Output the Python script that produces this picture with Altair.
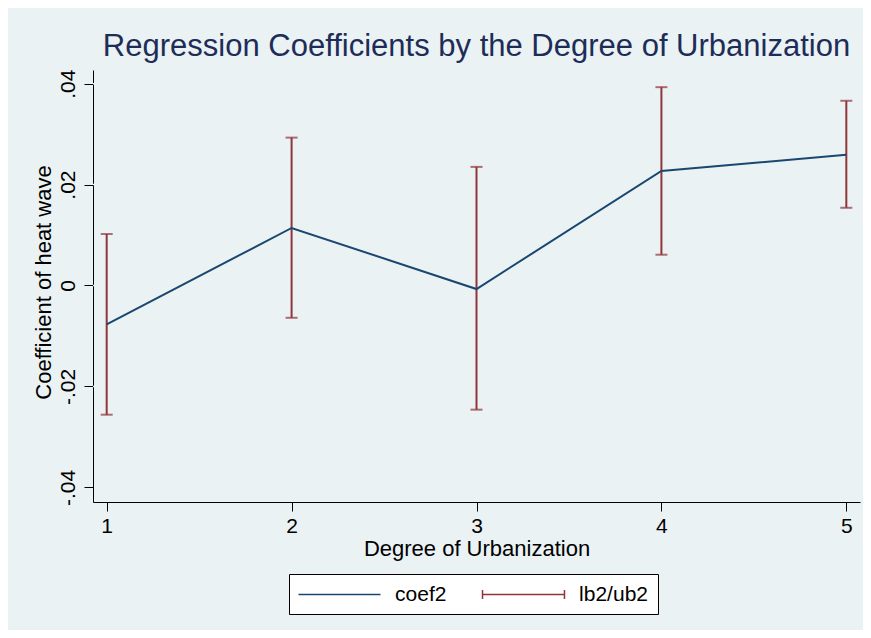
import altair as alt
import pandas as pd

# ---- data ----
urbanization = [1, 2, 3, 4, 5]
coef2 = [-0.0077, 0.0114, -0.0007, 0.0227, 0.0259]
lb2 = [-0.0256, -0.0064, -0.0246, 0.0061, 0.0154]
ub2 = [0.0102, 0.0293, 0.0235, 0.0393, 0.0366]

y_tick_values = [-0.04, -0.02, 0, 0.02, 0.04]
y_tick_labels = ["-.04", "-.02", "0", ".02", ".04"]
y_grid_values = [-0.02, 0, 0.02, 0.04]
x_tick_values = [1, 2, 3, 4, 5]
legend_labels = ["coef2", "lb2/ub2"]

NAVY = "#1a476f"
MAROON = "#90353b"
BG = "#eaf2f3"
FONT = "Liberation Sans"

df = pd.DataFrame({"x": urbanization, "coef": coef2, "lb": lb2, "ub": ub2})
grid_df = pd.DataFrame({"g": y_grid_values})
legend_df = pd.DataFrame({"series": legend_labels})

label_expr = " : ".join(
    [f"datum.value == {v} ? '{l}'" for v, l in zip(y_tick_values, y_tick_labels)]
) + " : ''"

xscale = alt.Scale(domain=[0.926, 5.074], nice=False, zero=False)
yscale = alt.Scale(domain=[-0.0429, 0.0427], nice=False, zero=False)

x_axis = alt.Axis(
    values=x_tick_values, format="d", title="Degree of Urbanization",
    grid=False, tickSize=9, labelPadding=21.5, labelBaseline="alphabetic",
    titleBaseline="alphabetic", titleY=53.7,
)
y_axis = alt.Axis(
    values=y_tick_values, labelExpr=label_expr, title="Coefficient of heat wave",
    grid=False, tickSize=9, labelAngle=270, labelAlign="center",
    labelBaseline="alphabetic", labelPadding=10,
    titleBaseline="alphabetic", titleX=-42.5, titleY=212, titleAngle=270,
)

base = alt.Chart(df)

grid = alt.Chart(grid_df).mark_rule(color=BG, strokeWidth=1.5).encode(
    y=alt.Y("g:Q", scale=yscale, axis=y_axis)
)

line = base.mark_line(color=NAVY, strokeWidth=2).encode(
    x=alt.X("x:Q", scale=xscale, axis=x_axis),
    y=alt.Y("coef:Q", scale=yscale, axis=y_axis),
)

bars = base.mark_rule(color=MAROON, strokeWidth=2).encode(
    x=alt.X("x:Q", scale=xscale, axis=x_axis),
    y=alt.Y("lb:Q", scale=yscale, axis=y_axis),
    y2="ub:Q",
)
cap_lo = base.mark_tick(color=MAROON, orient="horizontal", size=12, thickness=2).encode(
    x=alt.X("x:Q", scale=xscale, axis=x_axis), y=alt.Y("lb:Q", scale=yscale, axis=y_axis)
)
cap_hi = base.mark_tick(color=MAROON, orient="horizontal", size=12, thickness=2).encode(
    x=alt.X("x:Q", scale=xscale, axis=x_axis), y=alt.Y("ub:Q", scale=yscale, axis=y_axis)
)

line_path = "M-4,0L4,0"
err_path = "M-4,0L4,0M-4,-0.45L-4,0.45M4,-0.45L4,0.45"

legend_def = alt.Legend(
    title=None, orient="none", legendX=196, legendY=504, direction="horizontal",
    columns=2, columnPadding=33, padding=9.5, strokeColor="black", fillColor="white",
    symbolSize=420, symbolStrokeWidth=1.5, symbolOffset=30, labelOffset=44.6,
    labelFont=FONT, labelFontSize=21, labelColor="black",
)

legend_layer = alt.Chart(legend_df).transform_filter("false").mark_point(
    filled=False, opacity=1, strokeWidth=1.5
).encode(
    color=alt.Color("series:N", scale=alt.Scale(domain=legend_labels, range=[NAVY, MAROON]),
                    legend=legend_def),
    shape=alt.Shape("series:N", scale=alt.Scale(domain=legend_labels, range=[line_path, err_path]),
                    legend=legend_def),
)

chart = alt.layer(grid, bars, cap_lo, cap_hi, line, legend_layer).properties(
    width=767, height=432,
    autosize=alt.AutoSizeParams(type="none"),
    padding={"left": 85, "top": 62, "right": 3, "bottom": 128},
    background=BG,
    title=alt.Title(
        "Regression Coefficients by the Degree of Urbanization",
        font=FONT, fontSize=31, fontWeight="normal", color="#1e2d58",
        anchor="middle", frame="group", baseline="alphabetic", offset=-18,
    ),
).configure_view(
    stroke=None, fill="white"
).configure_axis(
    domainColor="black", tickColor="black", domainWidth=1, tickWidth=1,
    labelFont=FONT, labelFontSize=21, labelColor="black",
    titleFont=FONT, titleFontSize=22, titleColor="black", titleFontWeight="normal",
)

chart.save("out.html", embed_options={"renderer": "svg", "actions": False})
